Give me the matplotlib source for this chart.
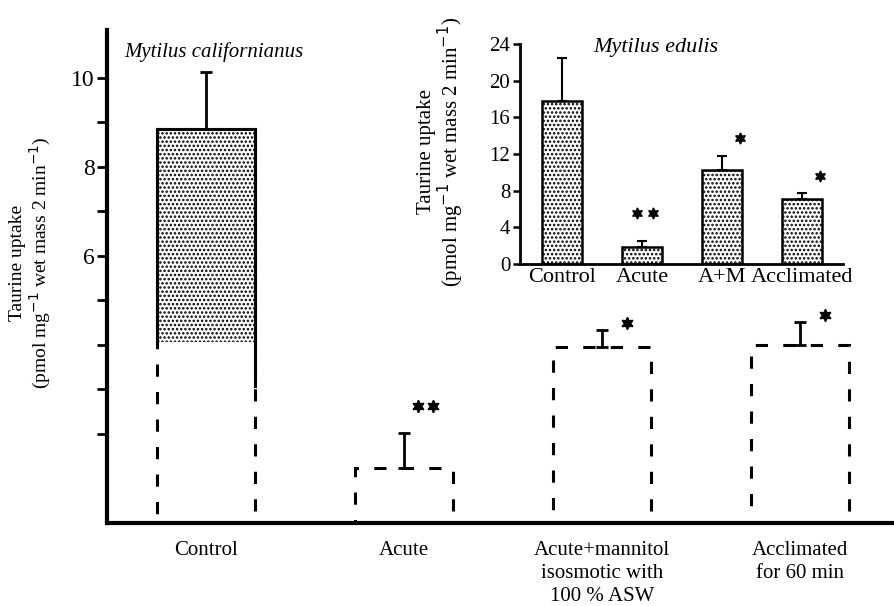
import matplotlib
matplotlib.use("Agg")
import matplotlib.pyplot as plt

plt.rcParams['font.family'] = ['Liberation Serif', 'DejaVu Serif']
plt.rcParams['hatch.linewidth'] = 1.2

# main panel: Mytilus californianus
groups = ['Control', 'Acute', 'Acute+mannitol\nisosmotic with\n100 % ASW', 'Acclimated\nfor 60 min']
uptake = [8.85, 1.24, 3.96, 4.0]
sem = [1.28, 0.78, 0.38, 0.52]
stipple_from = 4.07  # stippled fill survives only in upper part of control bar
signif = ['', '**', '*', '*']

# inset: Mytilus edulis
ins_groups = ['Control', 'Acute', 'A+M', 'Acclimated']
ins_uptake = [17.8, 1.85, 10.25, 7.1]
ins_sem = [4.7, 0.65, 1.55, 0.6]
ins_signif = ['', '**', '*', '*']

ylab = 'Taurine uptake\n(pmol mg$^{-1}$ wet mass 2 min$^{-1}$)'

fig = plt.figure(figsize=(8.95, 6.06), dpi=100)
ax = fig.add_axes([0.1196, 0.137, 0.8804, 0.8135])

x = list(range(len(groups)))
# broken outlines like the scan
ax.bar(x, uptake, width=0.495, color='white', edgecolor='black',
       linewidth=2.2, linestyle=(0, (4, 5)), zorder=2)
ax.bar([0], [uptake[0] - stipple_from], bottom=[stipple_from], width=0.495,
       color='white', edgecolor='black', hatch='....', linewidth=0, zorder=3)
ax.plot([-0.2475, 0.2475], [uptake[0], uptake[0]], color='black', lw=2.2, zorder=4)
ax.plot([-0.2475, -0.2475], [stipple_from, uptake[0]], color='black', lw=2.2, zorder=4)
ax.plot([0.2475, 0.2475], [stipple_from - 1.0, uptake[0]], color='black', lw=2.2, zorder=4)
ax.errorbar(x, uptake, yerr=[[0] * 4, sem], fmt='none', ecolor='black',
            elinewidth=2, capsize=4, capthick=2, zorder=4)

for xi, u, s, lab in zip(x, uptake, sem, signif):
    if not lab:
        continue
    n = len(lab)
    offs = [0.07, 0.145] if n == 2 else [0.125]
    for o in offs:
        ax.plot(xi + o, u + s + 0.6 if n == 2 else u + s + 0.15, marker=(6, 1, 0),
                color='black', markersize=9, zorder=5)

ax.set_xlim(-0.5, 3.48)
ax.set_ylim(0, 11.07)
ax.set_yticks([6, 8, 10])
ax.set_yticks([2, 3, 4, 5, 7, 9], minor=True)
ax.set_yticklabels(['6', '8', '10'], fontsize=17)
ax.tick_params(axis='y', which='major', direction='out', length=7, width=2, pad=2)
ax.tick_params(axis='y', which='minor', direction='out', length=7, width=2)
ax.set_xticks(x)
ax.set_xticklabels(groups, fontsize=15, linespacing=1.3, va='top')
ax.tick_params(axis='x', length=0, pad=13)
ax.spines['top'].set_visible(False)
ax.spines['right'].set_visible(False)
ax.spines['left'].set_linewidth(3)
ax.spines['bottom'].set_linewidth(3)
ax.set_ylabel(ylab, fontsize=14, linespacing=1.1)
ax.yaxis.set_label_coords(-0.069, 0.527)
ax.text(0.022, 0.955, 'Mytilus californianus', transform=ax.transAxes,
        fontsize=15, style='italic', ha='left', va='center')

# inset
ia = fig.add_axes([0.581, 0.5644, 0.361, 0.363])
xi_ = list(range(len(ins_groups)))
ia.bar(xi_, ins_uptake, width=0.5, color='white', edgecolor='black',
       hatch='....', linewidth=1.8, zorder=2)
ia.errorbar(xi_, ins_uptake, yerr=[[0] * 4, ins_sem], fmt='none', ecolor='black',
            elinewidth=1.5, capsize=3.5, capthick=1.5, zorder=3)
for xx, u, s, lab in zip(xi_, ins_uptake, ins_sem, ins_signif):
    if not lab:
        continue
    if len(lab) == 2:
        for o in [-0.06, 0.13]:
            ia.plot(xx + o, u + s + 3.1, marker=(6, 1, 0), color='black',
                    markersize=8, zorder=4)
    else:
        ia.plot(xx + 0.22, u + s + 1.9, marker=(6, 1, 0), color='black',
                markersize=8, zorder=4)

ia.set_xlim(-0.525, 3.51)
ia.set_ylim(0, 24)
ia.set_yticks([0, 4, 8, 12, 16, 20, 24])
ia.set_yticklabels(['0', '4', '8', '12', '16', '20', '24'], fontsize=15)
ia.tick_params(axis='y', direction='out', length=5, width=1.8, pad=2)
ia.set_xticks(xi_)
ia.set_xticklabels(ins_groups, fontsize=16)
ia.tick_params(axis='x', length=0, pad=3)
ia.spines['top'].set_visible(False)
ia.spines['right'].set_visible(False)
ia.spines['left'].set_linewidth(2)
ia.spines['bottom'].set_linewidth(2)
ia.set_ylabel(ylab, fontsize=15, linespacing=1.0)
ia.yaxis.set_label_coords(-0.167, 0.51)
ia.text(0.42, 0.985, 'Mytilus edulis', transform=ia.transAxes,
        fontsize=16, style='italic', ha='center', va='center')

fig.savefig('out.png', dpi=100)
